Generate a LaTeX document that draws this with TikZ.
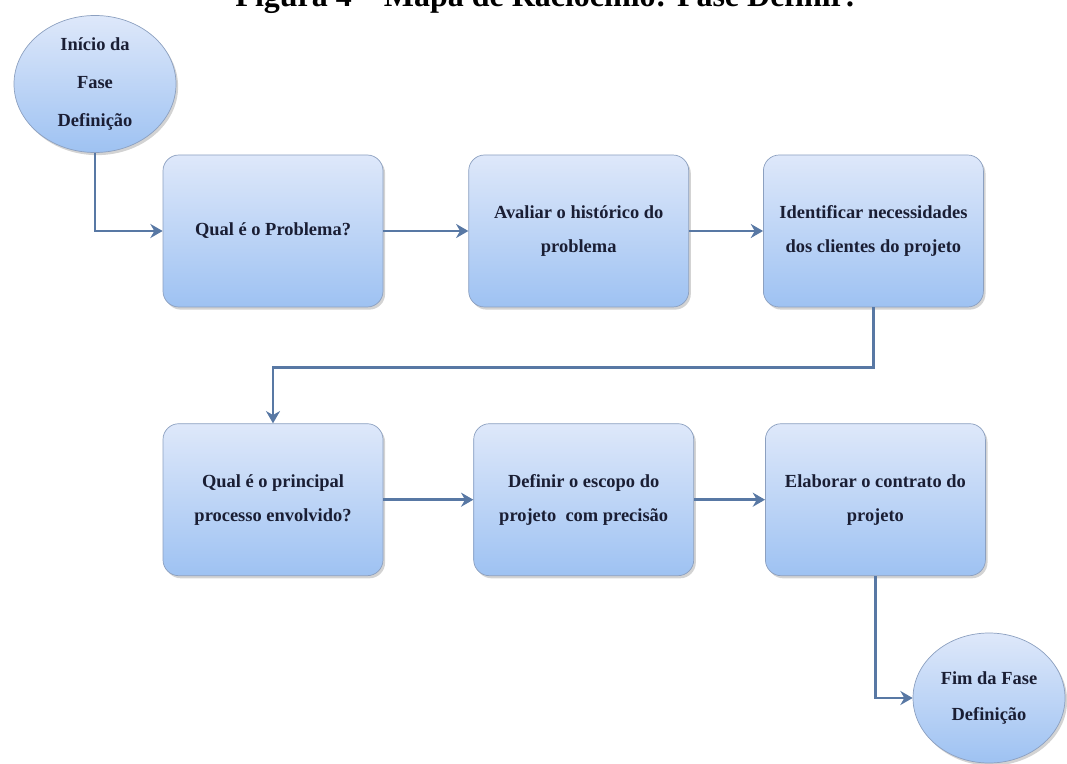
\documentclass[tikz,border=0pt]{standalone}
\usepackage{fontspec}
\setmainfont{Liberation Serif}
\usepackage{tikz}
\usetikzlibrary{arrows.meta, positioning, shapes.geometric, shadows}
\definecolor{boxtop}{RGB}{222,232,250}
\definecolor{boxbottom}{RGB}{158,194,242}
\definecolor{boxline}{RGB}{140,160,192}
\definecolor{linkblue}{RGB}{88,120,164}
\definecolor{ink}{RGB}{26,30,52}
\tikzstyle{block} = [thin, draw=boxline, top color=boxtop, bottom color=boxbottom, text=ink, align=center, font=\fontsize{10.5pt}{19.3pt}\selectfont\bfseries, drop shadow={opacity=0.35, shadow xshift=1.2pt, shadow yshift=-1.5pt}]
\tikzstyle{task} = [block, rectangle, rounded corners=9pt, minimum width=4.4cm, minimum height=3.04cm]
\tikzstyle{terminal} = [block, ellipse, inner sep=0pt]
\tikzstyle{link} = [-{Stealth[length=7pt, width=8pt]}, line width=1.6pt, draw=linkblue]

\begin{document}
\begin{tikzpicture}
    \useasboundingbox (0,0) rectangle (21.34,-15.28);
    \clip (0,0) rectangle (21.34,-15.28);

    % Title (cut by the page edge).
    \node (title) [anchor=base, font=\fontsize{18.2pt}{20pt}\selectfont\bfseries, inner sep=0pt] at (10.91,-0.14) {Figura 4 -- Mapa de Raciocínio: Fase Definir:};

    % Start and end.
    \node (start) [terminal, minimum width=3.24cm, minimum height=2.74cm, font=\fontsize{10.5pt}{21.5pt}\selectfont\bfseries] at (1.9,-1.68) {Início da\\Fase\\Definição};
    \node (finish) [terminal, minimum width=3.04cm, minimum height=2.6cm, font=\fontsize{10.5pt}{20.5pt}\selectfont\bfseries] at (19.78,-13.96) {Fim da Fase\\Definição};

    % First row.
    \node (box1) [task] at (5.46,-4.62) {Qual é o Problema?};
    \node (box2) [task, right=1.7cm of box1] {Avaliar o histórico do\\problema};
    \node (box3) [task, right=1.48cm of box2] {Identificar necessidades\\dos clientes do projeto};

    % Second row.
    \node (box4) [task, below=2.32cm of box1] {Qual é o principal\\processo envolvido?};
    \node (box5) [task, right=1.8cm of box4] {Definir o escopo do\\projeto\ \ com precisão};
    \node (box6) [task, right=1.42cm of box5] {Elaborar o contrato do\\projeto};

    % Arrows.
    \draw [link] (start.south) |- (box1.west);
    \draw [link] (box1) -- (box2);
    \draw [link] (box2) -- (box3);
    \draw [link] (box3.south) -- ++(0,-1.2) -| (box4.north);
    \draw [link] (box4) -- (box5);
    \draw [link] (box5) -- (box6);
    \draw [link] (box6.south) |- (finish.west);
\end{tikzpicture}
\end{document}
